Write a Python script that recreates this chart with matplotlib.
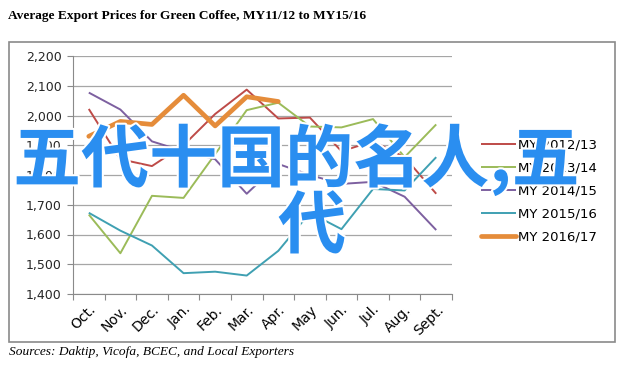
import matplotlib
matplotlib.use('Agg')
import matplotlib.pyplot as plt
import matplotlib.patheffects as pe
from matplotlib.patches import Rectangle

months = ['Oct.', 'Nov.', 'Dec.', 'Jan.', 'Feb.', 'Mar.', 'Apr.', 'May',
          'Jun.', 'Jul.', 'Aug.', 'Sept.']

my_2012 = [2022, 1853, 1830, 1900, 2005, 2087, 1990, 1993, 1880, 1913, 1860, 1737]
my_2013 = [1667, 1537, 1730, 1723, 1870, 2018, 2043, 1963, 1960, 1988, 1860, 1970]
my_2014 = [2077, 2020, 1913, 1880, 1853, 1737, 1837, 1800, 1770, 1777, 1727, 1615]
my_2015 = [1673, 1613, 1563, 1470, 1475, 1462, 1545, 1673, 1618, 1753, 1748, 1860]
my_2016 = [1930, 1980, 1970, 2068, 1965, 2063, 2047]

series = ['MY 2012/13', 'MY 2013/14', 'MY 2014/15', 'MY 2015/16', 'MY 2016/17']
colors = ['#BE4B48', '#9BBB59', '#7D60A0', '#3FA0B2', '#E58C3A']
widths = [1.4, 1.4, 1.4, 1.4, 3.4]

fig = plt.figure(figsize=(6.28, 3.72), dpi=100)

# outer chart frame
fig.patches.append(Rectangle((9 / 628, 1 - 342 / 372), 606 / 628, 300 / 372,
                             transform=fig.transFigure, fill=False,
                             edgecolor='#8a8a8a', lw=1.2))

ax = fig.add_axes([73 / 628, 1 - 294 / 372, 379 / 628, 238 / 372])

data = [my_2012, my_2013, my_2014, my_2015, my_2016]
for vals, name, c, w in zip(data, series, colors, widths):
    ax.plot(range(len(vals)), vals, color=c, lw=w, label=name,
            solid_capstyle='round' if w > 2 else 'butt')

ax.set_xlim(-0.5, 11.5)
ax.set_ylim(1400, 2200)
ax.set_yticks(range(1400, 2201, 100))
ax.set_yticklabels([f'{v:,}' for v in range(1400, 2201, 100)])
ax.yaxis.grid(True, color='#a6a6a6', lw=0.9)
ax.set_axisbelow(True)

# excel style: ticks between categories, labels at the centers
ax.set_xticks([i - 0.5 for i in range(13)])
ax.set_xticklabels([])
ax.set_xticks(range(12), minor=True)
ax.set_xticklabels(months, minor=True, rotation=45, ha='right', va='top',
                   rotation_mode='anchor')
ax.tick_params(axis='x', which='major', length=4, color='#8a8a8a', direction='out')
ax.tick_params(axis='x', which='minor', length=0, pad=6)
ax.tick_params(axis='y', length=4, color='#8a8a8a', pad=4)
ax.tick_params(labelsize=9, labelcolor='#262626')

for s in ['top', 'right']:
    ax.spines[s].set_visible(False)
for s in ['left', 'bottom']:
    ax.spines[s].set_color('#8a8a8a')

ax.legend(loc='upper left', bbox_to_anchor=(474 / 628, 1 - 132 / 372),
          bbox_transform=fig.transFigure, frameon=False, fontsize=9.5,
          handlelength=2.7, handletextpad=0.15, labelspacing=0.75,
          borderpad=0)

fig.text(8 / 628, 1 - 16 / 372,
         'Average Export Prices for Green Coffee, MY11/12 to MY15/16',
         family='Liberation Serif', weight='bold', fontsize=9.6, va='center')
fig.text(9 / 628, 1 - 352 / 372,
         'Sources: Daktip, Vicofa, BCEC, and Local Exporters',
         family='Liberation Serif', style='italic', fontsize=9.6, va='center')

# overlaid caption
stroke = [pe.withStroke(linewidth=3, foreground='white')]
fig.text(296 / 628, 1 - 160 / 372, '五代十国的名人,五',
         family=['Noto Sans CJK SC', 'DejaVu Sans'], weight='bold',
         fontsize=49, color='#2A8EF0', ha='center', va='center',
         path_effects=stroke)
fig.text(312 / 628, 1 - 228 / 372, '代',
         family=['Noto Sans CJK SC', 'DejaVu Sans'], weight='bold',
         fontsize=49, color='#2A8EF0', ha='center', va='center',
         path_effects=stroke)

fig.savefig('out.png', dpi=100)
